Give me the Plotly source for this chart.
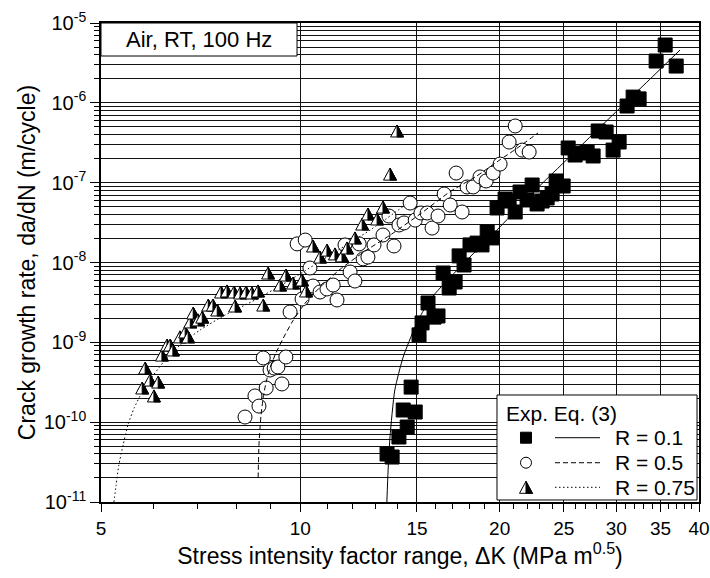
import math
import plotly.graph_objects as go

# ---------------- data ----------------
# R = 0.1 experimental points (filled squares)
K_R01 = [13.52, 13.76, 14.09, 14.50, 14.30, 14.91, 14.70, 15.11, 15.27, 15.59,
         15.92, 16.14, 16.43, 16.78, 17.13, 17.37, 17.67, 18.04, 18.49, 18.81,
         19.15, 19.48, 19.82, 20.38, 20.67, 21.11, 21.47, 22.00, 22.39, 22.78,
         23.18, 23.59, 24.00, 24.34, 24.94, 25.38, 26.00, 26.64, 27.11, 27.68,
         28.17, 28.96, 29.67, 30.30, 31.15, 31.81, 32.48, 34.46, 35.56, 36.95]
DADN_R01 = [3.99e-11, 3.66e-11, 6.52e-11, 8.69e-11, 1.42e-10, 1.34e-10, 2.75e-10, 1.24e-9, 1.75e-9, 3.11e-9,
            2.07e-9, 2.14e-9, 7.38e-9, 4.79e-9, 5.70e-9, 1.21e-8, 9.31e-9, 1.66e-8, 1.75e-8, 1.66e-8,
            2.41e-8, 2.03e-8, 4.82e-8, 6.24e-8, 5.89e-8, 4.29e-8, 7.64e-8, 6.07e-8, 9.35e-8, 5.41e-8,
            5.89e-8, 6.43e-8, 7.21e-8, 1.05e-7, 9.08e-8, 2.72e-7, 2.22e-7, 2.35e-7, 2.42e-7, 2.16e-7,
            4.44e-7, 4.31e-7, 2.56e-7, 3.23e-7, 9.12e-7, 1.18e-6, 1.12e-6, 3.34e-6, 5.30e-6, 2.89e-6]

# R = 0.5 experimental points (open circles)
K_R05 = [8.25, 8.54, 8.66, 8.88, 8.79, 9.00, 9.13, 9.25, 9.38, 9.51,
         9.65, 10.06, 10.45, 10.71, 10.97, 11.21, 11.36, 9.89, 10.17, 10.34,
         11.68, 11.89, 12.09, 12.27, 12.44, 12.65, 12.92, 13.33, 13.61, 13.85,
         14.09, 14.34, 14.65, 14.91, 15.21, 15.54, 15.81, 16.14, 16.49, 16.84,
         17.19, 17.55, 17.86, 18.24, 18.68, 19.08, 19.55, 20.03, 20.67, 21.11,
         21.63, 22.16]
DADN_R05 = [1.16e-10, 2.13e-10, 1.59e-10, 2.68e-10, 6.37e-10, 4.50e-10, 4.76e-10, 4.91e-10, 3.01e-10, 6.55e-10,
            2.40e-9, 3.49e-9, 5.07e-9, 4.27e-9, 4.66e-9, 5.22e-9, 3.39e-9, 1.71e-8, 1.91e-8, 8.53e-9,
            1.66e-8, 7.60e-9, 5.86e-9, 1.71e-8, 1.11e-8, 1.17e-8, 1.66e-8, 2.21e-8, 3.82e-8, 1.61e-8,
            2.95e-8, 3.13e-8, 5.56e-8, 3.40e-8, 4.17e-8, 4.17e-8, 2.70e-8, 3.82e-8, 7.21e-8, 5.25e-8,
            1.32e-7, 4.29e-8, 8.83e-8, 8.83e-8, 1.18e-7, 1.05e-7, 1.32e-7, 1.71e-7, 3.23e-7, 5.13e-7,
            2.56e-7, 2.42e-7]

# R = 0.75 experimental points (half-filled triangles)
K_R075 = [5.77, 5.83, 5.93, 6.10, 6.01, 6.18, 6.29, 6.36, 6.42, 6.58,
          6.70, 6.77, 6.82, 6.89, 7.01, 7.11, 7.26, 7.38, 7.49, 7.97,
          8.79, 7.59, 7.75, 7.94, 8.11, 8.28, 8.45, 8.63, 8.94, 9.32,
          9.51, 9.75, 10.06, 10.20, 10.45, 10.71, 10.97, 11.28, 11.56, 11.76,
          12.09, 12.40, 12.65, 13.06, 13.33, 13.66, 14.00]
DADN_R075 = [2.68e-10, 4.76e-10, 3.37e-10, 3.18e-10, 2.13e-10, 6.93e-10, 9.25e-10, 9.25e-10, 8.02e-10, 1.17e-9,
             1.35e-9, 1.17e-9, 1.80e-9, 2.33e-9, 1.91e-9, 2.07e-9, 2.93e-9, 2.93e-9, 2.54e-9, 2.85e-9,
             2.93e-9, 4.27e-9, 4.40e-9, 4.27e-9, 4.15e-9, 4.27e-9, 4.15e-9, 4.40e-9, 7.38e-9, 5.22e-9,
             6.97e-9, 5.53e-9, 6.04e-9, 4.40e-9, 1.61e-8, 1.17e-8, 1.43e-8, 1.28e-8, 1.21e-8, 1.52e-8,
             2.03e-8, 3.03e-8, 4.05e-8, 3.51e-8, 4.95e-8, 1.28e-7, 4.44e-7]

# Eq. (3) curves
FIT_K_R01 = [13.51, 13.57, 13.66, 13.89, 14.30, 14.91, 15.32, 15.86, 17.43, 20.03,
             22.5, 25.0, 28.0, 31.0, 34.0, 37.45]
FIT_DADN_R01 = [1.0e-11, 2.52e-11, 6.57e-11, 2.53e-10, 6.55e-10, 1.57e-9, 2.45e-9, 3.8e-9, 8.78e-9, 2.8e-8,
                7.66e-8, 1.79e-7, 4.47e-7, 1.01e-6, 2.11e-6, 4.59e-6]

FIT_K_R05 = [8.635, 8.645, 8.66, 8.72, 8.79, 8.88, 9.00, 9.19, 9.42, 9.72,
             10.17, 10.71, 11.48, 12.53, 13.66, 15.17, 16.83, 18.43, 20.03, 21.18, 22.86]
FIT_DADN_R05 = [2.0e-11, 3.0e-11, 5.2e-11, 1.2e-10, 2.05e-10, 3.2e-10, 4.8e-10, 7.4e-10, 1.12e-9, 1.8e-9,
                3.1e-9, 4.9e-9, 8.2e-9, 1.39e-8, 2.2e-8, 4.05e-8, 7.7e-8, 1.2e-7, 1.94e-7, 2.65e-7, 4.2e-7]

FIT_K_R075 = [5.23, 5.27, 5.32, 5.40, 5.49, 5.61, 5.77, 5.97, 6.25, 6.58,
              7.06, 7.70, 8.54, 9.65, 11.09, 12.75, 14.40]
FIT_DADN_R075 = [1.0e-11, 1.63e-11, 2.90e-11, 5.18e-11, 9.21e-11, 1.50e-10, 2.39e-10, 3.68e-10, 6.01e-10, 9.25e-10,
                 1.43e-9, 2.20e-9, 3.39e-9, 6.04e-9, 1.24e-8, 2.55e-8, 5.25e-8]

SERIES_LABELS = ["R = 0.1", "R = 0.5", "R = 0.75"]
LEGEND_TITLE = "Exp. Eq. (3)"
CONDITION_LABEL = "Air, RT, 100 Hz"

X_TICKS = [5, 10, 15, 20, 25, 30, 35, 40]
X_TICK_TEXT = ["5", "10", "15", "20", "25", "30", "35", "40"]
X_MINOR = [6, 7, 8, 9, 11, 12, 13, 14, 16, 17, 18, 19, 21, 22, 23, 24,
           26, 27, 28, 29, 31, 32, 33, 34, 36, 37, 38, 39]
Y_TICKS = [1e-11, 1e-10, 1e-9, 1e-8, 1e-7, 1e-6, 1e-5]
Y_TICK_TEXT = ["10<sup>-11</sup>", "10<sup>-10</sup>", "10<sup>-9</sup>", "10<sup>-8</sup>",
               "10<sup>-7</sup>", "10<sup>-6</sup>", "10<sup>-5</sup>"]
Y_MINOR = [m * 10.0 ** e for e in range(-11, -5) for m in range(2, 10)]

FONT = "Liberation Sans, Arial, Helvetica, sans-serif"

# ---------------- figure ----------------
fig = go.Figure()

fig.add_trace(go.Scatter(
    x=K_R01, y=DADN_R01, mode="markers", name=SERIES_LABELS[0],
    marker=dict(symbol="square", size=14, color="black", line=dict(color="black", width=1))))
fig.add_trace(go.Scatter(
    x=K_R05, y=DADN_R05, mode="markers", name=SERIES_LABELS[1],
    marker=dict(symbol="circle", size=14, color="white", line=dict(color="black", width=1))))
fig.add_trace(go.Scatter(
    x=K_R075, y=DADN_R075, mode="markers", name=SERIES_LABELS[2],
    marker=dict(symbol="triangle-up", size=7, color="white", line=dict(color="black", width=1))))

fig.add_trace(go.Scatter(
    x=FIT_K_R01, y=FIT_DADN_R01, mode="lines", name=SERIES_LABELS[0] + " Eq. (3)",
    line=dict(color="black", width=1, shape="spline", smoothing=0.6)))
fig.add_trace(go.Scatter(
    x=FIT_K_R05, y=FIT_DADN_R05, mode="lines", name=SERIES_LABELS[1] + " Eq. (3)",
    line=dict(color="black", width=1, dash="5px,3px", shape="spline", smoothing=0.6)))
fig.add_trace(go.Scatter(
    x=FIT_K_R075, y=FIT_DADN_R075, mode="lines", name=SERIES_LABELS[2] + " Eq. (3)",
    line=dict(color="black", width=1, dash="1.5px,2.5px", shape="spline", smoothing=0.6)))

# half-filled triangle glyphs (white left half, black right half), anchored at data points
TRI_FULL = "M-6.5,-6 L6.5,-6 L0,6 Z"
TRI_HALF = "M0,6 L0,-6 L6.5,-6 Z"
for k, v in sorted(zip(K_R075, DADN_R075)):
    fig.add_shape(type="path", xref="x", yref="y", xsizemode="pixel", ysizemode="pixel",
                  xanchor=k, yanchor=v, path=TRI_FULL, fillcolor="white",
                  line=dict(color="black", width=1), layer="above")
    fig.add_shape(type="path", xref="x", yref="y", xsizemode="pixel", ysizemode="pixel",
                  xanchor=k, yanchor=v, path=TRI_HALF, fillcolor="black",
                  line=dict(color="black", width=1), layer="above")

# condition box
fig.add_shape(type="rect", xref="paper", yref="paper", x0=0, x1=0.3278, y0=0.9311, y1=1,
              fillcolor="white", line=dict(color="black", width=1), layer="above")
fig.add_annotation(xref="paper", yref="paper", x=0.1639, y=0.9656, text=CONDITION_LABEL,
                   showarrow=False, xanchor="center", yanchor="middle",
                   font=dict(size=22, family=FONT, color="black"))

# custom legend
fig.add_shape(type="rect", xref="paper", yref="paper", x0=0.6622, x1=0.9967, y0=0.0042, y1=0.2234,
              fillcolor="white", line=dict(color="black", width=1), layer="above")
fig.add_annotation(xref="paper", yref="paper", x=0.6739, y=0.1858, text=LEGEND_TITLE,
                   showarrow=False, xanchor="left", yanchor="middle",
                   font=dict(size=21, family=FONT, color="black"))
ROW_Y = [0.1342, 0.0820, 0.0307]
MK_X = 0.7107
LN_X0, LN_X1 = 0.7592, 0.8344
LABEL_X = 0.8562
DASHES = ["solid", "5px,3px", "1.5px,2.5px"]
for i, lab in enumerate(SERIES_LABELS):
    fig.add_annotation(xref="paper", yref="paper", x=LABEL_X, y=ROW_Y[i], text=lab,
                       showarrow=False, xanchor="left", yanchor="middle",
                       font=dict(size=21, family=FONT, color="black"))
    fig.add_shape(type="line", xref="paper", yref="paper", x0=LN_X0, x1=LN_X1,
                  y0=ROW_Y[i], y1=ROW_Y[i], line=dict(color="black", width=1, dash=DASHES[i]),
                  layer="above")
fig.add_shape(type="rect", xref="paper", yref="paper", xsizemode="pixel", ysizemode="pixel",
              xanchor=MK_X, yanchor=ROW_Y[0], x0=-5.5, x1=5.5, y0=-5.5, y1=5.5,
              fillcolor="black", line=dict(color="black", width=1), layer="above")
fig.add_shape(type="circle", xref="paper", yref="paper", xsizemode="pixel", ysizemode="pixel",
              xanchor=MK_X, yanchor=ROW_Y[1], x0=-5.5, x1=5.5, y0=-5.5, y1=5.5,
              fillcolor="white", line=dict(color="black", width=1), layer="above")
fig.add_shape(type="path", xref="paper", yref="paper", xsizemode="pixel", ysizemode="pixel",
              xanchor=MK_X, yanchor=ROW_Y[2], path=TRI_FULL, fillcolor="white",
              line=dict(color="black", width=1), layer="above")
fig.add_shape(type="path", xref="paper", yref="paper", xsizemode="pixel", ysizemode="pixel",
              xanchor=MK_X, yanchor=ROW_Y[2], path=TRI_HALF, fillcolor="black",
              line=dict(color="black", width=1), layer="above")

fig.update_layout(
    width=710, height=578,
    margin=dict(l=101, r=11, t=23, b=76),
    plot_bgcolor="white", paper_bgcolor="white",
    showlegend=False,
    font=dict(family=FONT, color="black"),
)

fig.update_xaxes(
    type="log", range=[math.log10(5), math.log10(40)], automargin=False,
    tickvals=X_TICKS, ticktext=X_TICK_TEXT,
    ticks="outside", ticklen=8, tickwidth=1.3, tickcolor="black",
    tickfont=dict(size=19, family=FONT, color="black"),
    showgrid=True, gridcolor="#111111", gridwidth=1,
    showline=True, linecolor="black", linewidth=1.6, mirror=True, zeroline=False,
    minor=dict(tickvals=X_MINOR, ticks="outside", ticklen=5, tickwidth=1.1,
               tickcolor="black", showgrid=False),
    title=dict(text="Stress intensity factor range, \u0394K (MPa m<sup>0.5</sup>)",
               font=dict(size=23, family=FONT, color="black"), standoff=10),
)
fig.update_yaxes(
    type="log", range=[-11, -5], automargin=False,
    tickvals=Y_TICKS, ticktext=Y_TICK_TEXT,
    ticks="outside", ticklen=9, tickwidth=1.3, tickcolor="black",
    tickfont=dict(size=20, family=FONT, color="black"),
    showgrid=True, gridcolor="#111111", gridwidth=1,
    showline=True, linecolor="black", linewidth=1.6, mirror=True, zeroline=False,
    minor=dict(tickvals=Y_MINOR, ticks="outside", ticklen=5, tickwidth=1.1,
               tickcolor="black", showgrid=True, gridcolor="#111111", gridwidth=1),
    title=dict(text="Crack growth rate, da/dN (m/cycle)",
               font=dict(size=23, family=FONT, color="black"), standoff=2),
)

fig.write_html("out.html", config={"displayModeBar": False},
               post_script="document.body.style.margin='0px';")
